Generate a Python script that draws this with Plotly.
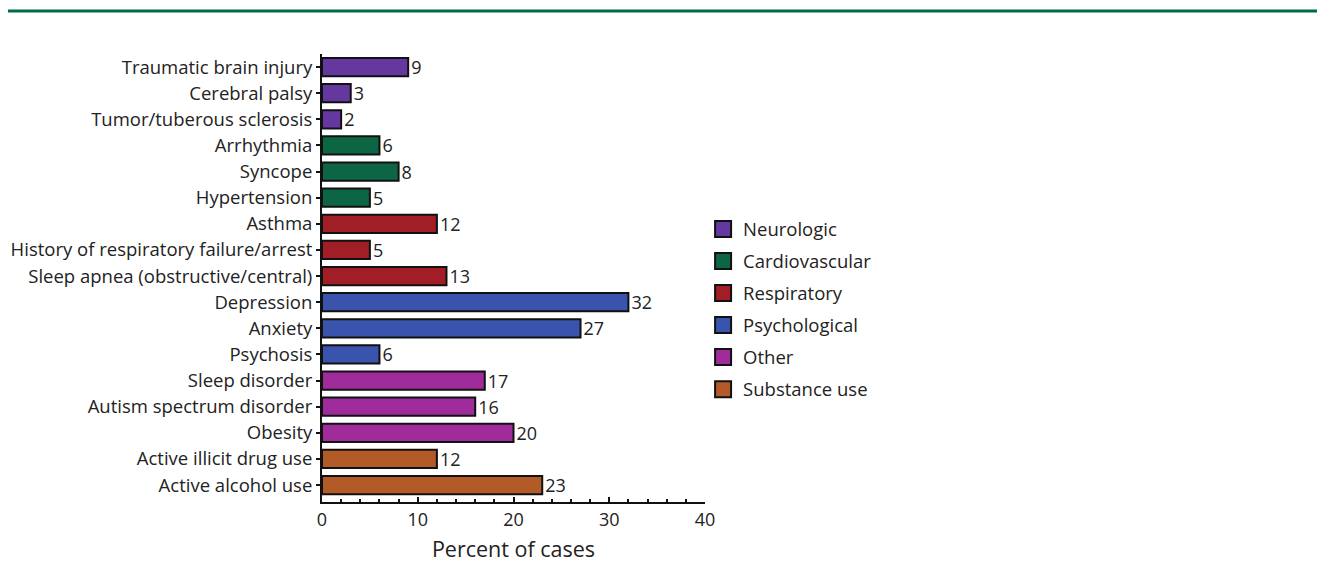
import plotly.graph_objects as go

categories = [
    "Traumatic brain injury", "Cerebral palsy", "Tumor/tuberous sclerosis",
    "Arrhythmia", "Syncope", "Hypertension",
    "Asthma", "History of respiratory failure/arrest", "Sleep apnea (obstructive/central)",
    "Depression", "Anxiety", "Psychosis",
    "Sleep disorder", "Autism spectrum disorder", "Obesity",
    "Active illicit drug use", "Active alcohol use",
]
values = [9, 3, 2, 6, 8, 5, 12, 5, 13, 32, 27, 6, 17, 16, 20, 12, 23]
groups = ["Neurologic"] * 3 + ["Cardiovascular"] * 3 + ["Respiratory"] * 3 + \
         ["Psychological"] * 3 + ["Other"] * 3 + ["Substance use"] * 2
group_names = ["Neurologic", "Cardiovascular", "Respiratory", "Psychological", "Other", "Substance use"]
group_colors = ["#6538A0", "#0C6644", "#A11E26", "#3A54AE", "#A02C9C", "#B25A28"]
x_ticks = [0, 10, 20, 30, 40]

L, R, T, B = 314, 628, 46, 83
PW, PH = 1325 - L - R, 577 - T - B

fig = go.Figure()
for g, c in zip(group_names, group_colors):
    ys = [cat for cat, gg in zip(categories, groups) if gg == g]
    xs = [v for v, gg in zip(values, groups) if gg == g]
    fig.add_trace(go.Bar(
        x=xs, y=ys, orientation="h", name=g, legendgroup=g, showlegend=False,
        marker=dict(color=c, line=dict(color="#111111", width=2)),
        width=0.7,
        text=[str(v) for v in xs], textposition="outside",
        constraintext="none",
        textfont=dict(size=18, color="#222222", family="Open Sans"),
        cliponaxis=False,
    ))
    # legend swatch (larger square like the reference)
    fig.add_trace(go.Scatter(
        x=[None], y=[None], mode="markers", name=g, legendgroup=g,
        marker=dict(symbol="square", size=16, color=c, line=dict(color="#111111", width=2)),
        hoverinfo="skip",
    ))

fig.update_layout(
    width=1325, height=577,
    margin=dict(l=L, r=R, t=T, b=B, autoexpand=False),
    paper_bgcolor="white", plot_bgcolor="white",
    font=dict(family="Open Sans", size=18, color="#222222"),
    showlegend=True,
    legend=dict(x=0.995, y=0.43, xanchor="left", yanchor="middle",
                font=dict(size=18.5, color="#222222"),
                traceorder="grouped", tracegroupgap=5),
    bargap=0.3,
    shapes=[dict(type="line", xref="paper", yref="paper",
                 x0=(0 - L) / PW, x1=(1314 - L) / PW,
                 y0=(577 - B - 3) / PH, y1=(577 - B - 3) / PH,
                 line=dict(color="#006B48", width=3))],
)
fig.update_xaxes(
    range=[0, 40], tickvals=x_ticks, ticktext=[str(t) for t in x_ticks],
    showline=True, linecolor="#111111", linewidth=2,
    ticks="inside", ticklen=5, tickwidth=1.5, tickcolor="#111111",
    minor=dict(dtick=2, ticks="inside", ticklen=3, tickcolor="#111111", tickwidth=1.5),
    showgrid=False, zeroline=False, automargin=False,
    title=dict(text="Percent of cases", font=dict(size=21.5, color="#222222"), standoff=12),
    tickfont=dict(size=18),
)
fig.update_yaxes(
    categoryorder="array", categoryarray=categories,
    range=[16.65, -0.5],
    showline=True, linecolor="#111111", linewidth=2,
    ticks="outside", ticklen=4, tickwidth=1.5, tickcolor="#111111",
    showgrid=False, zeroline=False, automargin=False,
    tickfont=dict(size=18.5),
)
fig.write_html("out.html")
